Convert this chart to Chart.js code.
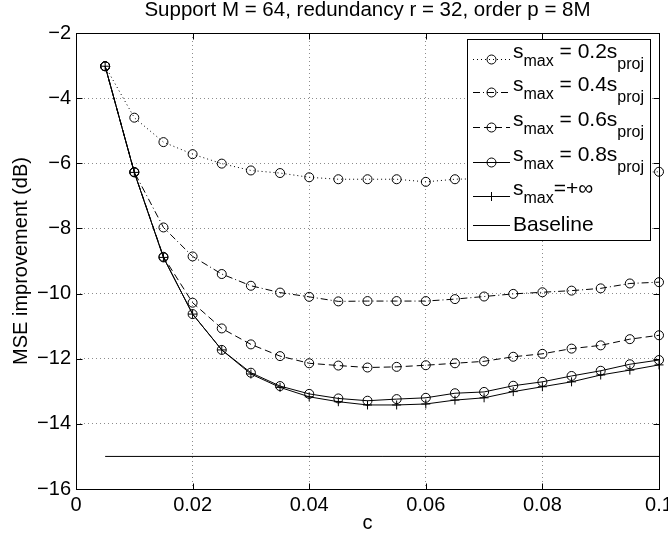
<!DOCTYPE html>
<html>
<head>
<meta charset="utf-8">
<script src="https://cdn.jsdelivr.net/npm/chart.js@4.4.0/dist/chart.umd.min.js"></script>
<style>
  body { margin: 0; background: #fff; }
  #wrap { width: 668px; height: 538px; }
</style>
</head>
<body>
<div id="wrap"><canvas id="mseChart"></canvas></div>
<script>
// step size c
const cValues = [0.005, 0.01, 0.015, 0.02, 0.025, 0.03, 0.035, 0.04, 0.045, 0.05,
                 0.055, 0.06, 0.065, 0.07, 0.075, 0.08, 0.085, 0.09, 0.095, 0.1];

// MSE improvement (dB) for each clipping level
const smax02 = [-3.02, -4.60, -5.35, -5.72, -6.01, -6.22, -6.30, -6.43, -6.49, -6.49,
                -6.49, -6.57, -6.49, -6.47, -6.45, -6.42, -6.38, -6.33, -6.29, -6.26];
const smax04 = [-3.02, -6.27, -7.97, -8.86, -9.40, -9.76, -9.97, -10.10, -10.24, -10.23,
                -10.23, -10.23, -10.17, -10.09, -10.01, -9.96, -9.91, -9.84, -9.69, -9.65];
const smax06 = [-3.02, -6.27, -8.87, -10.28, -11.07, -11.56, -11.92, -12.14, -12.21, -12.27,
                -12.25, -12.20, -12.14, -12.08, -11.94, -11.85, -11.69, -11.59, -11.40, -11.28];
const smax08 = [-3.02, -6.28, -8.89, -10.63, -11.73, -12.43, -12.84, -13.08, -13.22, -13.29,
                -13.24, -13.20, -13.06, -13.02, -12.83, -12.71, -12.53, -12.37, -12.17, -12.04];
const smaxInf = [-3.02, -6.28, -8.89, -10.63, -11.73, -12.47, -12.88, -13.17, -13.32, -13.42,
                 -13.42, -13.39, -13.27, -13.20, -13.01, -12.86, -12.71, -12.50, -12.35, -12.19];
const baselineC = [0.005, 0.1];
const baselineMse = [-15, -15];

const xTickLabels = ['0', '0.02', '0.04', '0.06', '0.08', '0.1'];
const yTickLabels = ['\u221216', '\u221214', '\u221212', '\u221210', '\u22128', '\u22126', '\u22124', '\u22122'];

// legend text pieces: main, subscript, main, subscript
const legendParts = [
  ['s', 'max', ' = 0.2s', 'proj'],
  ['s', 'max', ' = 0.4s', 'proj'],
  ['s', 'max', ' = 0.6s', 'proj'],
  ['s', 'max', ' = 0.8s', 'proj'],
  ['s', 'max', '=+\u221e', ''],
  ['Baseline']
];

const FONT = "'Liberation Sans', Arial, Helvetica, sans-serif";

const toPts = (xs, ys) => xs.map((x, i) => ({ x: x, y: ys[i] }));

const lineSet = (label, xs, ys, dash, style) => ({
  label: label,
  data: toPts(xs, ys),
  showLine: true,
  fill: false,
  tension: 0,
  clip: false,
  borderColor: '#000',
  borderWidth: 1,
  borderDash: dash,
  pointStyle: style || false,
  pointRadius: style ? 4.5 : 0,
  pointBorderColor: '#000',
  pointBackgroundColor: 'rgba(0,0,0,0)',
  pointBorderWidth: 1
});

// box around the plot with inward ticks
const frame = {
  id: 'frame',
  afterDatasetsDraw(chart) {
    const { ctx, chartArea: a, scales: { x, y } } = chart;
    const L = Math.round(a.left) + 0.5, R = Math.round(a.right) + 0.5;
    const T = Math.round(a.top) + 0.5, B = Math.round(a.bottom) + 0.5;
    ctx.save();
    ctx.strokeStyle = '#000';
    ctx.lineWidth = 1;
    ctx.setLineDash([]);
    ctx.strokeRect(L, T, R - L, B - T);
    ctx.beginPath();
    x.ticks.forEach(t => {
      const px = Math.round(x.getPixelForValue(t.value)) + 0.5;
      ctx.moveTo(px, B); ctx.lineTo(px, B - 6);
      ctx.moveTo(px, T); ctx.lineTo(px, T + 6);
    });
    y.ticks.forEach(t => {
      const py = Math.round(y.getPixelForValue(t.value)) + 0.5;
      ctx.moveTo(L, py); ctx.lineTo(L + 6, py);
      ctx.moveTo(R, py); ctx.lineTo(R - 6, py);
    });
    ctx.stroke();
    ctx.restore();
  }
};

// legend box with subscripted labels
const boxLegend = {
  id: 'boxLegend',
  afterDatasetsDraw(chart) {
    const ctx = chart.ctx;
    const box = { left: 467.5, top: 39.5, right: 650.5, bottom: 240.5 };
    const rowY = [59, 92, 127, 162, 196, 225];
    ctx.save();
    ctx.fillStyle = '#fff';
    ctx.fillRect(box.left, box.top, box.right - box.left, box.bottom - box.top);
    ctx.strokeStyle = '#000';
    ctx.lineWidth = 1;
    ctx.strokeRect(box.left, box.top, box.right - box.left, box.bottom - box.top);

    chart.data.datasets.forEach((ds, i) => {
      const yy = rowY[i] + 0.5;
      ctx.strokeStyle = '#000';
      ctx.lineWidth = 1;
      ctx.setLineDash(ds.borderDash || []);
      ctx.beginPath();
      ctx.moveTo(473, yy);
      ctx.lineTo(510, yy);
      ctx.stroke();
      ctx.setLineDash([]);
      if (ds.pointStyle === 'circle') {
        ctx.beginPath();
        ctx.arc(491.5, yy, 4.5, 0, Math.PI * 2);
        ctx.stroke();
      } else if (ds.pointStyle === 'cross') {
        ctx.beginPath();
        ctx.moveTo(491.5, yy - 4.5); ctx.lineTo(491.5, yy + 4.5);
        ctx.moveTo(487, yy); ctx.lineTo(496, yy);
        ctx.stroke();
      }

      const parts = legendParts[i];
      ctx.fillStyle = '#000';
      if (parts.length === 1) {
        ctx.font = '21px ' + FONT;
        ctx.textBaseline = 'middle';
        ctx.fillText(parts[0], 513, yy);
        return;
      }
      ctx.textBaseline = 'alphabetic';
      let tx = 513;
      const base = rowY[i] - 1;
      parts.forEach((p, k) => {
        if (!p) return;
        const isSub = k % 2 === 1;
        ctx.font = (isSub ? '16px ' : '21px ') + FONT;
        const dy = isSub ? (k === 1 ? 8 : 11) : 0;
        ctx.fillText(p, tx, base + dy);
        tx += ctx.measureText(p).width;
      });
    });
    ctx.restore();
  }
};

new Chart(document.getElementById('mseChart'), {
  type: 'scatter',
  data: {
    datasets: [
      lineSet('smax = 0.2sproj', cValues, smax02, [1, 3], 'circle'),
      lineSet('smax = 0.4sproj', cValues, smax04, [7, 3, 1, 3], 'circle'),
      lineSet('smax = 0.6sproj', cValues, smax06, [7, 4], 'circle'),
      lineSet('smax = 0.8sproj', cValues, smax08, [], 'circle'),
      lineSet('smax = +inf', cValues, smaxInf, [], 'cross'),
      lineSet('Baseline', baselineC, baselineMse, [], null)
    ]
  },
  options: {
    animation: false,
    responsive: true,
    maintainAspectRatio: false,
    layout: { padding: { left: 0, right: 9, top: 0, bottom: 0 } },
    plugins: {
      legend: { display: false },
      tooltip: { enabled: false },
      title: {
        display: true,
        fullSize: false,
        text: 'Support M = 64, redundancy r = 32, order p = 8M',
        color: '#000',
        font: { family: FONT, size: 20.5, weight: 'normal', lineHeight: 1 },
        padding: { top: 0, bottom: 12.5 }
      }
    },
    scales: {
      x: {
        type: 'linear',
        min: 0,
        max: 0.1,
        ticks: {
          stepSize: 0.02,
          autoSkip: false,
          maxRotation: 0,
          padding: 4,
          color: '#000',
          font: { family: FONT, size: 20 },
          callback: (v, i) => xTickLabels[i]
        },
        grid: { color: 'rgba(0,0,0,0.45)', lineWidth: 1, drawTicks: false },
        border: { display: false, dash: [1, 3] },
        title: {
          display: true,
          text: 'c',
          color: '#000',
          font: { family: FONT, size: 20 },
          padding: { top: 0, bottom: 3 }
        },
        afterFit(s) { s.height = 49; s.paddingLeft = 0; s.paddingRight = 0; }
      },
      y: {
        min: -16,
        max: -2,
        ticks: {
          stepSize: 2,
          padding: 5,
          color: '#000',
          font: { family: FONT, size: 20 },
          callback: (v, i) => yTickLabels[i]
        },
        grid: { color: 'rgba(0,0,0,0.45)', lineWidth: 1, drawTicks: false },
        border: { display: false, dash: [1, 3] },
        title: {
          display: true,
          text: 'MSE improvement (dB)',
          color: '#000',
          font: { family: FONT, size: 20 },
          padding: { top: 9, bottom: 0 }
        },
        afterFit(s) { s.width = 76; s.paddingTop = 0; s.paddingBottom = 0; }
      }
    }
  },
  plugins: [frame, boxLegend]
});
</script>
</body>
</html>
